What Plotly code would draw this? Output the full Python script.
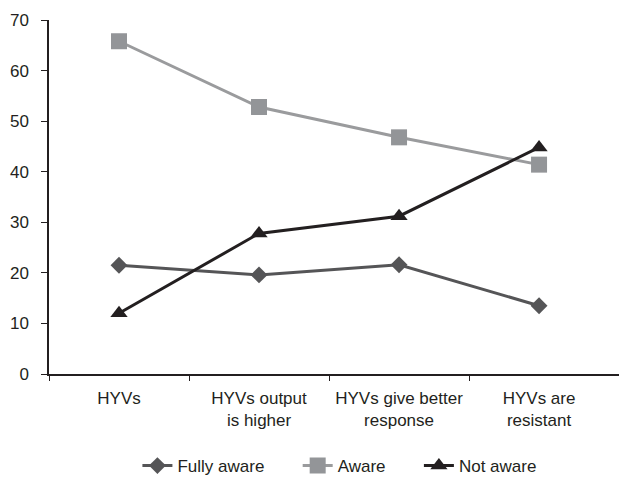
import plotly.graph_objects as go

categories = ["HYVs", "HYVs output<br>is higher", "HYVs give better<br>response", "HYVs are<br>resistant"]
series_names = ["Fully aware", "Aware", "Not aware"]
fully_aware = [21.5, 19.6, 21.6, 13.5]
aware = [65.8, 52.8, 46.8, 41.4]
not_aware = [12.0, 27.8, 31.2, 44.8]

font_family = "Liberation Sans, Arial, sans-serif"
ink = "#231f20"
pad = "\u00a0" * 6  # extra room between legend entries

# the category axis runs on a little past the last group
x_range = [-0.5, 3.571]
boundaries = [-0.5, 0.5, 1.5, 2.5]

fig = go.Figure()
fig.add_trace(go.Scatter(
    x=categories, y=fully_aware, name=series_names[0] + pad, mode="lines+markers",
    line=dict(color="#555557", width=3),
    marker=dict(symbol="diamond", size=13, color="#555557"),
))
fig.add_trace(go.Scatter(
    x=categories, y=aware, name=series_names[1] + pad, mode="lines+markers",
    line=dict(color="#9a9b9d", width=3),
    marker=dict(symbol="square", size=16, color="#939598"),
))
fig.add_trace(go.Scatter(
    x=categories, y=not_aware, name=series_names[2], mode="lines+markers",
    line=dict(color=ink, width=3),
    marker=dict(symbol="triangle-up", size=15, color=ink),
))
# empty helper trace so the boundary-tick axis gets drawn
fig.add_trace(go.Scatter(
    x=boundaries, y=[None] * len(boundaries), xaxis="x2", mode="markers",
    showlegend=False, hoverinfo="skip",
))

fig.update_layout(
    width=629, height=477,
    margin=dict(l=49, r=10, t=20, b=103, autoexpand=False),
    plot_bgcolor="white", paper_bgcolor="white",
    font=dict(family=font_family, size=17, color=ink),
    showlegend=True,
    legend=dict(orientation="h", x=0.5095, xanchor="center", y=-0.26, yanchor="middle",
                font=dict(size=17), tracegroupgap=0),
    xaxis=dict(
        type="category", range=x_range, showline=True, linecolor=ink, linewidth=1.5,
        ticks="", ticklabelstandoff=8, showgrid=False, zeroline=False,
    ),
    # tick marks at the group boundaries
    xaxis2=dict(
        overlaying="x", anchor="y", side="bottom", range=x_range,
        tickmode="array", tickvals=boundaries, showticklabels=False,
        ticks="outside", ticklen=6, tickcolor=ink, tickwidth=1.2,
        showline=False, showgrid=False, zeroline=False,
    ),
    yaxis=dict(
        range=[0, 70], dtick=10, showline=True, linecolor=ink, linewidth=1.5,
        ticks="outside", ticklen=6, tickcolor=ink, ticklabelstandoff=9,
        showgrid=False, zeroline=False,
    ),
)

fig.write_html("out.html")
